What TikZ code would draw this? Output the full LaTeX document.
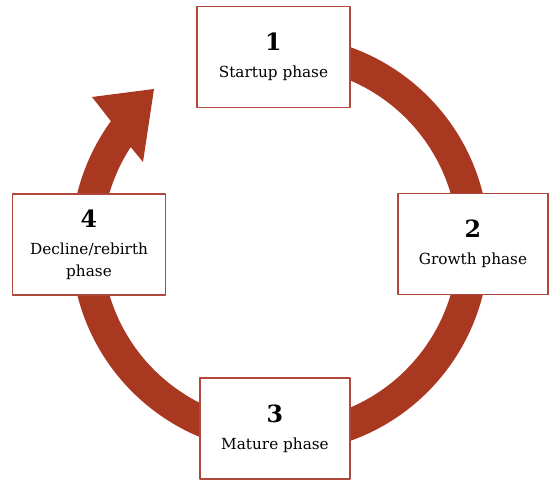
\documentclass[tikz,border=0pt]{standalone}
\usepackage{fontspec}
\setmainfont{DejaVu Serif}
\usetikzlibrary{calc}
\definecolor{ringbrown}{RGB}{168,56,32}
\definecolor{boxred}{RGB}{175,72,58}
\newcommand{\phasenum}[1]{{\fontsize{13.5}{17}\selectfont\bfseries #1}\\[3pt]}
\tikzset{
	phasebox/.style={draw=boxred, line width=0.9pt, fill=white,
		minimum width=3.06cm, minimum height=2.02cm,
		align=center, font=\fontsize{8.7}{12.5}\selectfont}
}
\begin{document}
\begin{tikzpicture}
	[
		x=0.02cm,
		y=0.02cm,
		line join=round
	]
		\useasboundingbox (0,0) rectangle (549,483);
		\coordinate (c) at (280,239);
		% wings and tip of the arrow head
		\coordinate (wout) at (92,386);
		\coordinate (tip) at (154,394);
		\coordinate (win) at (143,321);
		% the ring, ending in the arrow head
		\fill [ringbrown] (c) ++(100:209) arc [start angle=100, end angle=-216, radius=209]
			-- (wout) -- (tip) -- (win)
			-- ($(c)+(-213:178)$) arc [start angle=-213, end angle=100, radius=178] -- cycle;
		\node [phasebox] (s1) at (273.5,426) {\phasenum{1}Startup phase};
		\node [phasebox, minimum width=3.0cm] (s2) at (473,239) {\phasenum{2}Growth phase};
		\node [phasebox, minimum width=3.0cm] (s3) at (275,54.5) {\phasenum{3}Mature phase};
		\node [phasebox] (s4) at (89,238.5) {\phasenum{4}Decline/rebirth\\phase};
	\end{tikzpicture}
\end{document}
